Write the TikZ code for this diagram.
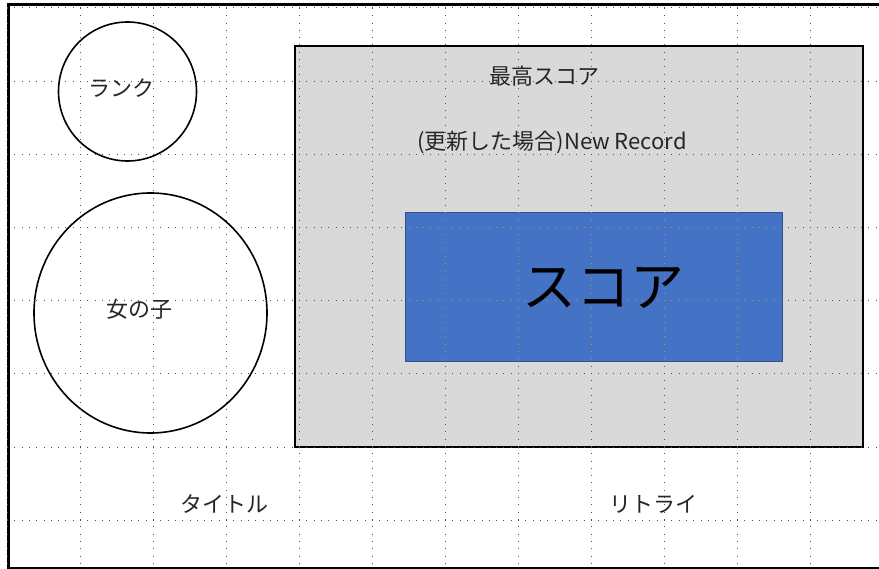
\documentclass[tikz,border=0pt]{standalone}
\usepackage{fontspec}
\setmainfont{Noto Sans CJK JP}
\definecolor{boxgray}{HTML}{D9D9D9}
\definecolor{scoreblue}{HTML}{4472C4}
\definecolor{scoreedge}{HTML}{2F528F}
\definecolor{griddot}{HTML}{505050}
\definecolor{gridorange}{HTML}{C89040}
\definecolor{txt}{HTML}{262626}
\tikzset{
  gridline/.style={griddot, line width=1pt, dash pattern=on 1pt off 6.3pt},
  shape circ/.style={draw=black, line width=1.6pt},
  lbl/.style={inner sep=0pt, text=txt, font=\fontsize{22}{22}\selectfont},
}
\begin{document}
\begin{tikzpicture}[x=1pt,y=-1pt]
\useasboundingbox (0,0) rectangle (879,569);
\fill[white] (0,0) rectangle (879,569);
% frame
\draw[line width=3pt] (7,4.5) -- (879,4.5);
\draw[line width=3pt] (8.5,3) -- (8.5,569);
\draw[line width=2pt] (8,567.5) -- (879,567.5);
% shapes
\draw[shape circ] (127.5,91.5) ellipse [x radius=69, y radius=69.5];
\draw[shape circ] (150.5,313) ellipse [x radius=116.5, y radius=120];
\node[draw=black, line width=2pt, fill=boxgray, minimum width=568pt, minimum height=401pt, inner sep=0pt, anchor=north west] (best) at (294,45) {};
\node[draw=scoreedge, line width=1pt, fill=scoreblue, minimum width=377pt, minimum height=149pt, inner sep=0pt, anchor=north west] (score) at (405,212) {};
% grid
\begin{scope}
\foreach \gx in {7,80,153,226,299,372,445,518,591,664,737,810}
  \draw[gridline] (\gx,8) -- (\gx,569);
\foreach \gy in {8,81.2,154.4,227.6,300.8,374,447.2,520.4}
  \draw[gridline] (7,\gy) -- (879,\gy);
\end{scope}
\begin{scope}
\clip (405.5,212.5) rectangle (781.5,360.5);
\foreach \gx in {7,80,153,226,299,372,445,518,591,664,737,810}
  \draw[gridline, gridorange] (\gx,8) -- (\gx,569);
\foreach \gy in {8,81.2,154.4,227.6,300.8,374,447.2,520.4}
  \draw[gridline, gridorange] (7,\gy) -- (879,\gy);
\end{scope}
% texts
\node[lbl] (rank) at (121,88) {ランク};
\node[lbl] (girl) at (139,309) {女の子};
\node[lbl] (besttitle) at (544,76) {最高スコア};
\node[lbl] (newrec) at (552,142) {(更新した場合)New Record};
\node[lbl, text=black, font=\fontsize{54}{54}\selectfont] (scoretext) at (603,288) {スコア};
\node[lbl] (title) at (224,504) {タイトル};
\node[lbl] (retry) at (653,504) {リトライ};
\end{tikzpicture}
\end{document}
